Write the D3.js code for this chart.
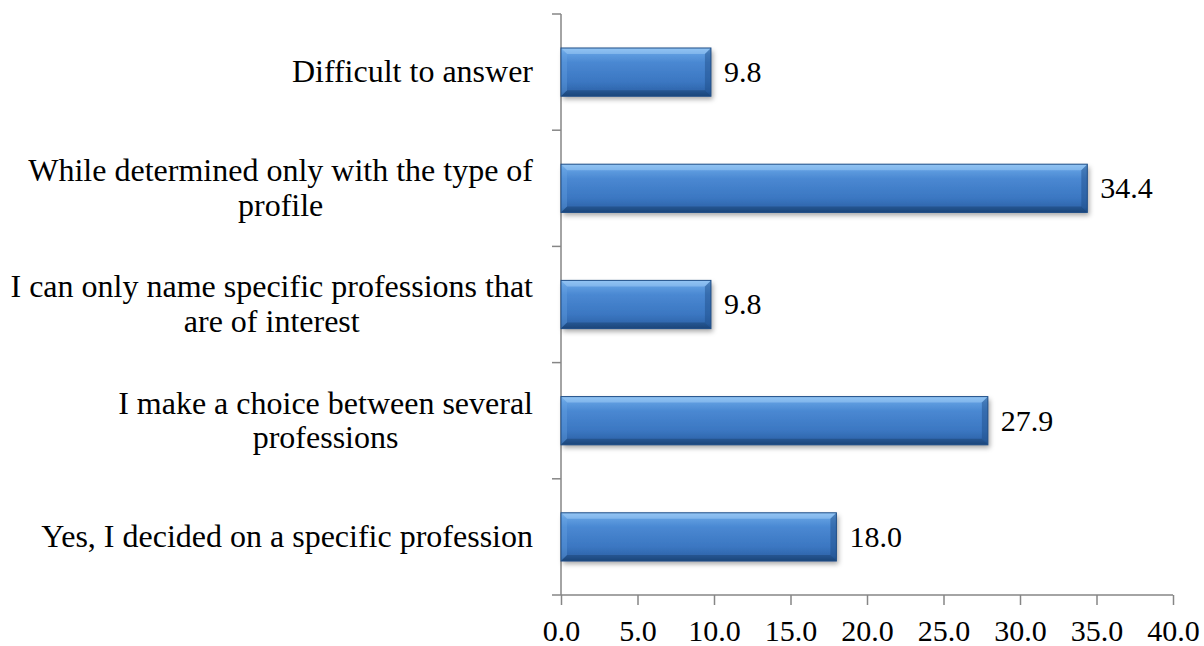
<!DOCTYPE html>
<html><head><meta charset="utf-8">
<script src="https://cdn.jsdelivr.net/npm/d3@7"></script>
<style>html,body{margin:0;padding:0;background:#fff;}</style>
</head><body>
<svg id="c" width="1204" height="646"></svg>
<script>
const categories = [
  ["Difficult to answer"],
  ["While determined only with the type of", "profile"],
  ["I can only name specific professions that", "are of interest"],
  ["I make a choice between several", "professions"],
  ["Yes, I decided on a specific profession"]
];
const values = [9.8, 34.4, 9.8, 27.9, 18.0];
const xTicks = [0, 5, 10, 15, 20, 25, 30, 35, 40];

(function () {
const svg = d3.select("#c");
const mLeft = 561, mRight = 1173, mTop = 14, mBottom = 595;
const fontFam = "Liberation Serif";
const fsCat = 32, fsNum = 30;

const x = d3.scaleLinear().domain([0, 40]).range([mLeft, mRight]);
const y = d3.scaleBand().domain(d3.range(categories.length)).range([mTop, mBottom]).paddingInner(0.585).paddingOuter(0.2925);

const defs = svg.append("defs");
const g = defs.append("linearGradient").attr("id", "bar").attr("x1", 0).attr("y1", 0).attr("x2", 0).attr("y2", 1);
[[0, "#86bdf0"], [0.12, "#5f9de0"], [0.3, "#4a88d2"], [0.7, "#3b77c2"], [0.9, "#2f66ac"], [1, "#1d4a82"]].forEach(s => g.append("stop").attr("offset", s[0]).attr("stop-color", s[1]));
const f = defs.append("filter").attr("id", "sh").attr("x", "-5%").attr("y", "-20%").attr("width", "115%").attr("height", "160%");
f.append("feDropShadow").attr("dx", 2).attr("dy", 3).attr("stdDeviation", 2.5).attr("flood-color", "#000").attr("flood-opacity", 0.35);

const axisColor = "#868686";
const xAxis = d3.axisBottom(x).tickValues(xTicks).tickSize(10).tickFormat(d3.format(".1f"));
const gx = svg.append("g").attr("transform", `translate(0,${mBottom})`).call(xAxis);
gx.attr("font-family", null).attr("font-size", null);
gx.select(".domain").attr("stroke", axisColor).attr("stroke-width", 1.5).attr("d", `M${mLeft},0H${mRight}`);
gx.selectAll(".tick line").attr("stroke", axisColor).attr("stroke-width", 1.5);
gx.selectAll(".tick text").attr("fill", "#000").style("font-family", fontFam).style("font-size", fsNum + "px").attr("y", 46).attr("dy", 0);

const yTickPos = d3.range(categories.length + 1).map(i => mTop + i * (mBottom - mTop) / categories.length);
svg.append("line").attr("x1", mLeft).attr("x2", mLeft).attr("y1", mTop).attr("y2", mBottom).attr("stroke", axisColor).attr("stroke-width", 1.5);
svg.selectAll(".yt").data(yTickPos).enter().append("line").attr("x1", mLeft - 9).attr("x2", mLeft).attr("y1", d => d).attr("y2", d => d).attr("stroke", axisColor).attr("stroke-width", 1.5);

const bv = 6;
const bars = svg.selectAll(".bar").data(values).enter().append("g");
bars.each(function(v, i) {
  const gg = d3.select(this);
  const x0 = x(0), x1 = x(v), y0 = y(i), y1 = y(i) + y.bandwidth();
  gg.append("rect").attr("x", x0).attr("y", y0).attr("width", x1 - x0).attr("height", y1 - y0).attr("fill", "url(#bar)").attr("filter", "url(#sh)");
  gg.append("path").attr("d", `M${x0},${y0}L${x1},${y0}L${x1 - bv},${y0 + bv}L${x0 + bv},${y0 + bv}Z`).attr("fill", "#9ccbf5").attr("opacity", 0.55);
  gg.append("path").attr("d", `M${x0},${y1}L${x1},${y1}L${x1 - bv},${y1 - bv}L${x0 + bv},${y1 - bv}Z`).attr("fill", "#17406f").attr("opacity", 0.5);
  gg.append("path").attr("d", `M${x1},${y0}L${x1},${y1}L${x1 - bv},${y1 - bv}L${x1 - bv},${y0 + bv}Z`).attr("fill", "#1d4c85").attr("opacity", 0.45);
  gg.append("path").attr("d", `M${x0},${y0}L${x0},${y1}L${x0 + bv},${y1 - bv}L${x0 + bv},${y0 + bv}Z`).attr("fill", "#6aa6e6").attr("opacity", 0.35);
  gg.append("rect").attr("x", x0).attr("y", y0).attr("width", x1 - x0).attr("height", y1 - y0).attr("fill", "none").attr("stroke", "#1f4e87").attr("stroke-width", 1);
  gg.append("text").attr("x", x1 + 13).attr("y", (y0 + y1) / 2).attr("dy", "0.33em").style("font-family", fontFam).style("font-size", fsNum + "px").attr("fill", "#000").text(d3.format(".1f")(v));
});

const lh = 34.5;
const labelRight = 533;
categories.forEach((lines, i) => {
  const cy = y(i) + y.bandwidth() / 2;
  const tg = svg.append("g");
  const texts = lines.map((l, j) => tg.append("text").style("font-family", fontFam).style("font-size", fsCat + "px").attr("fill", "#000")
    .attr("y", cy + (j - (lines.length - 1) / 2) * lh).attr("dy", "0.32em").attr("text-anchor", "middle").text(l));
  const w = d3.max(texts, t => t.node().getComputedTextLength());
  texts.forEach(t => t.attr("x", labelRight - w / 2));
});
})();
</script>
</body></html>
